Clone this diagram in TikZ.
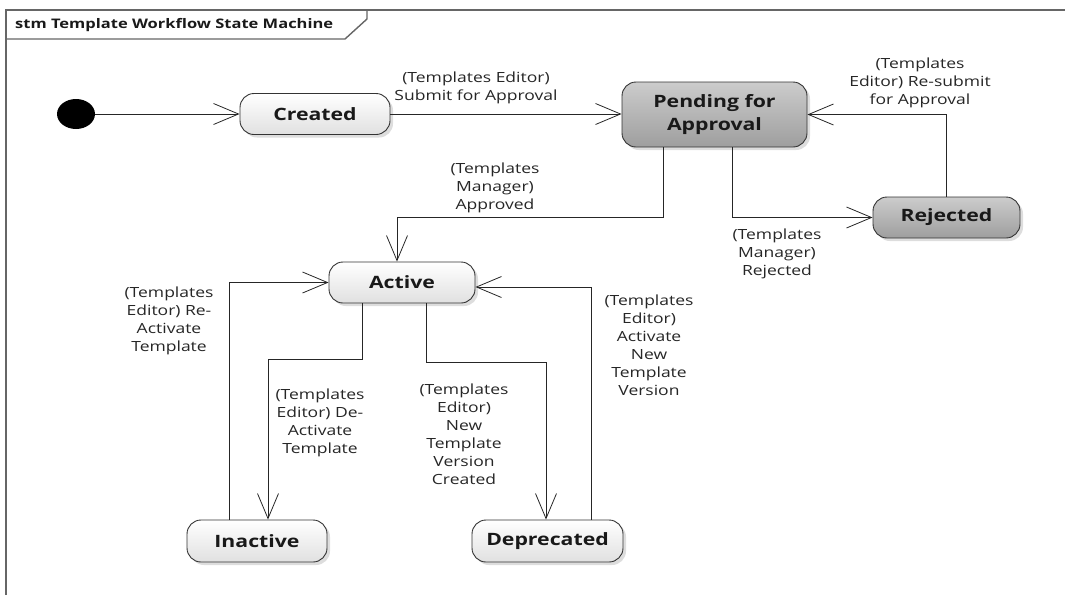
\documentclass[tikz,border=0pt]{standalone}
\usepackage{fontspec}
\usetikzlibrary{arrows.meta,shadows,shapes.geometric}
\newfontfamily\umlfont[FakeStretch=1.25]{Open Sans}

\tikzset{
  frameline/.style={draw=black!60, line width=1.4pt},
  statebox/.style={draw=black!80, line width=0.9pt, rounded corners=14pt,
    font=\umlfont\fontsize{17}{23}\selectfont\bfseries, text=black!90, align=center,
    drop shadow={shadow xshift=3pt, shadow yshift=-3pt, opacity=0.22, fill=black!60}},
  lightstate/.style={statebox, top color=white, bottom color=black!12},
  darkstate/.style={statebox, top color=black!20, bottom color=black!38},
  flow/.style={draw=black!85, line width=0.8pt, -{Straight Barb[length=25pt,width=21pt,line width=0.8pt]}},
  guard/.style={font=\umlfont\fontsize{14}{18}\selectfont, text=black!85, align=center, inner sep=0pt}
}

\begin{document}
\begin{tikzpicture}[x=1pt,y=-1pt]
\useasboundingbox (0,0) rectangle (1065,595);

% diagram frame with its name tab
\draw[frameline] (6,595) -- (6,10) -- (1065,10);
\draw[frameline] (6,39) -- (345,39) -- (367,19) -- (367,10);
\node[anchor=west, inner sep=0pt, font=\umlfont\fontsize{13.2}{15}\selectfont\bfseries, text=black!90] (title) at (15,25) {stm Template Workflow State Machine};

% states
\node[fill=black, ellipse, minimum width=38pt, minimum height=30pt, inner sep=0pt] (init) at (76,114) {};
\node[lightstate, minimum width=150pt, minimum height=41pt] (created) at (315,114) {Created};
\node[darkstate, minimum width=185pt, minimum height=65pt] (pend) at (714.5,114.5) {Pending for\\Approval};
\node[darkstate, minimum width=147pt, minimum height=41pt] (rej) at (946.5,217.5) {Rejected};
\node[lightstate, minimum width=146pt, minimum height=41pt] (act) at (402,282.5) {Active};
\node[lightstate, minimum width=140pt, minimum height=42pt] (inact) at (257,541) {Inactive};
\node[lightstate, minimum width=151pt, minimum height=42pt] (dep) at (547.5,541) {Deprecated};

% transitions
\draw[flow] (init) -- (created);
\draw[flow] (created.east) -- (pend.west |- created.east);
\draw[flow] (663,0 |- pend.south) -- (663,217) -| (397,0 |- act.north);
\draw[flow] (732,0 |- pend.south) |- (rej.west);
\draw[flow] (946,0 |- rej.north) |- (pend.east);
\draw[flow] (362,0 |- act.south) -- (362,359) -| (268,0 |- inact.north);
\draw[flow] (229,0 |- inact.north) |- (act.west);
\draw[flow] (426,0 |- act.south) -- (426,362) -| (546,0 |- dep.north);
\draw[flow] (591,0 |- dep.north) -- (591,287) -- (act.east |- 0,287);

% transition guards
\node[guard] (g1) at (476,88) {(Templates Editor)\\Submit for Approval};
\node[guard] (g2) at (495,188) {(Templates\\Manager)\\Approved};
\node[guard] (g3) at (777,254) {(Templates\\Manager)\\Rejected};
\node[guard] (g4) at (920,83) {(Templates\\Editor) Re-submit\\for Approval};
\node[guard] (g5) at (169,321) {(Templates\\Editor) Re-\\Activate\\Template};
\node[guard] (g6) at (320,423) {(Templates\\Editor) De-\\Activate\\Template};
\node[guard] (g7) at (464,434) {(Templates\\Editor)\\New\\Template\\Version\\Created};
\node[guard] (g8) at (649,345) {(Templates\\Editor)\\Activate\\New\\Template\\Version};
\end{tikzpicture}
\end{document}
